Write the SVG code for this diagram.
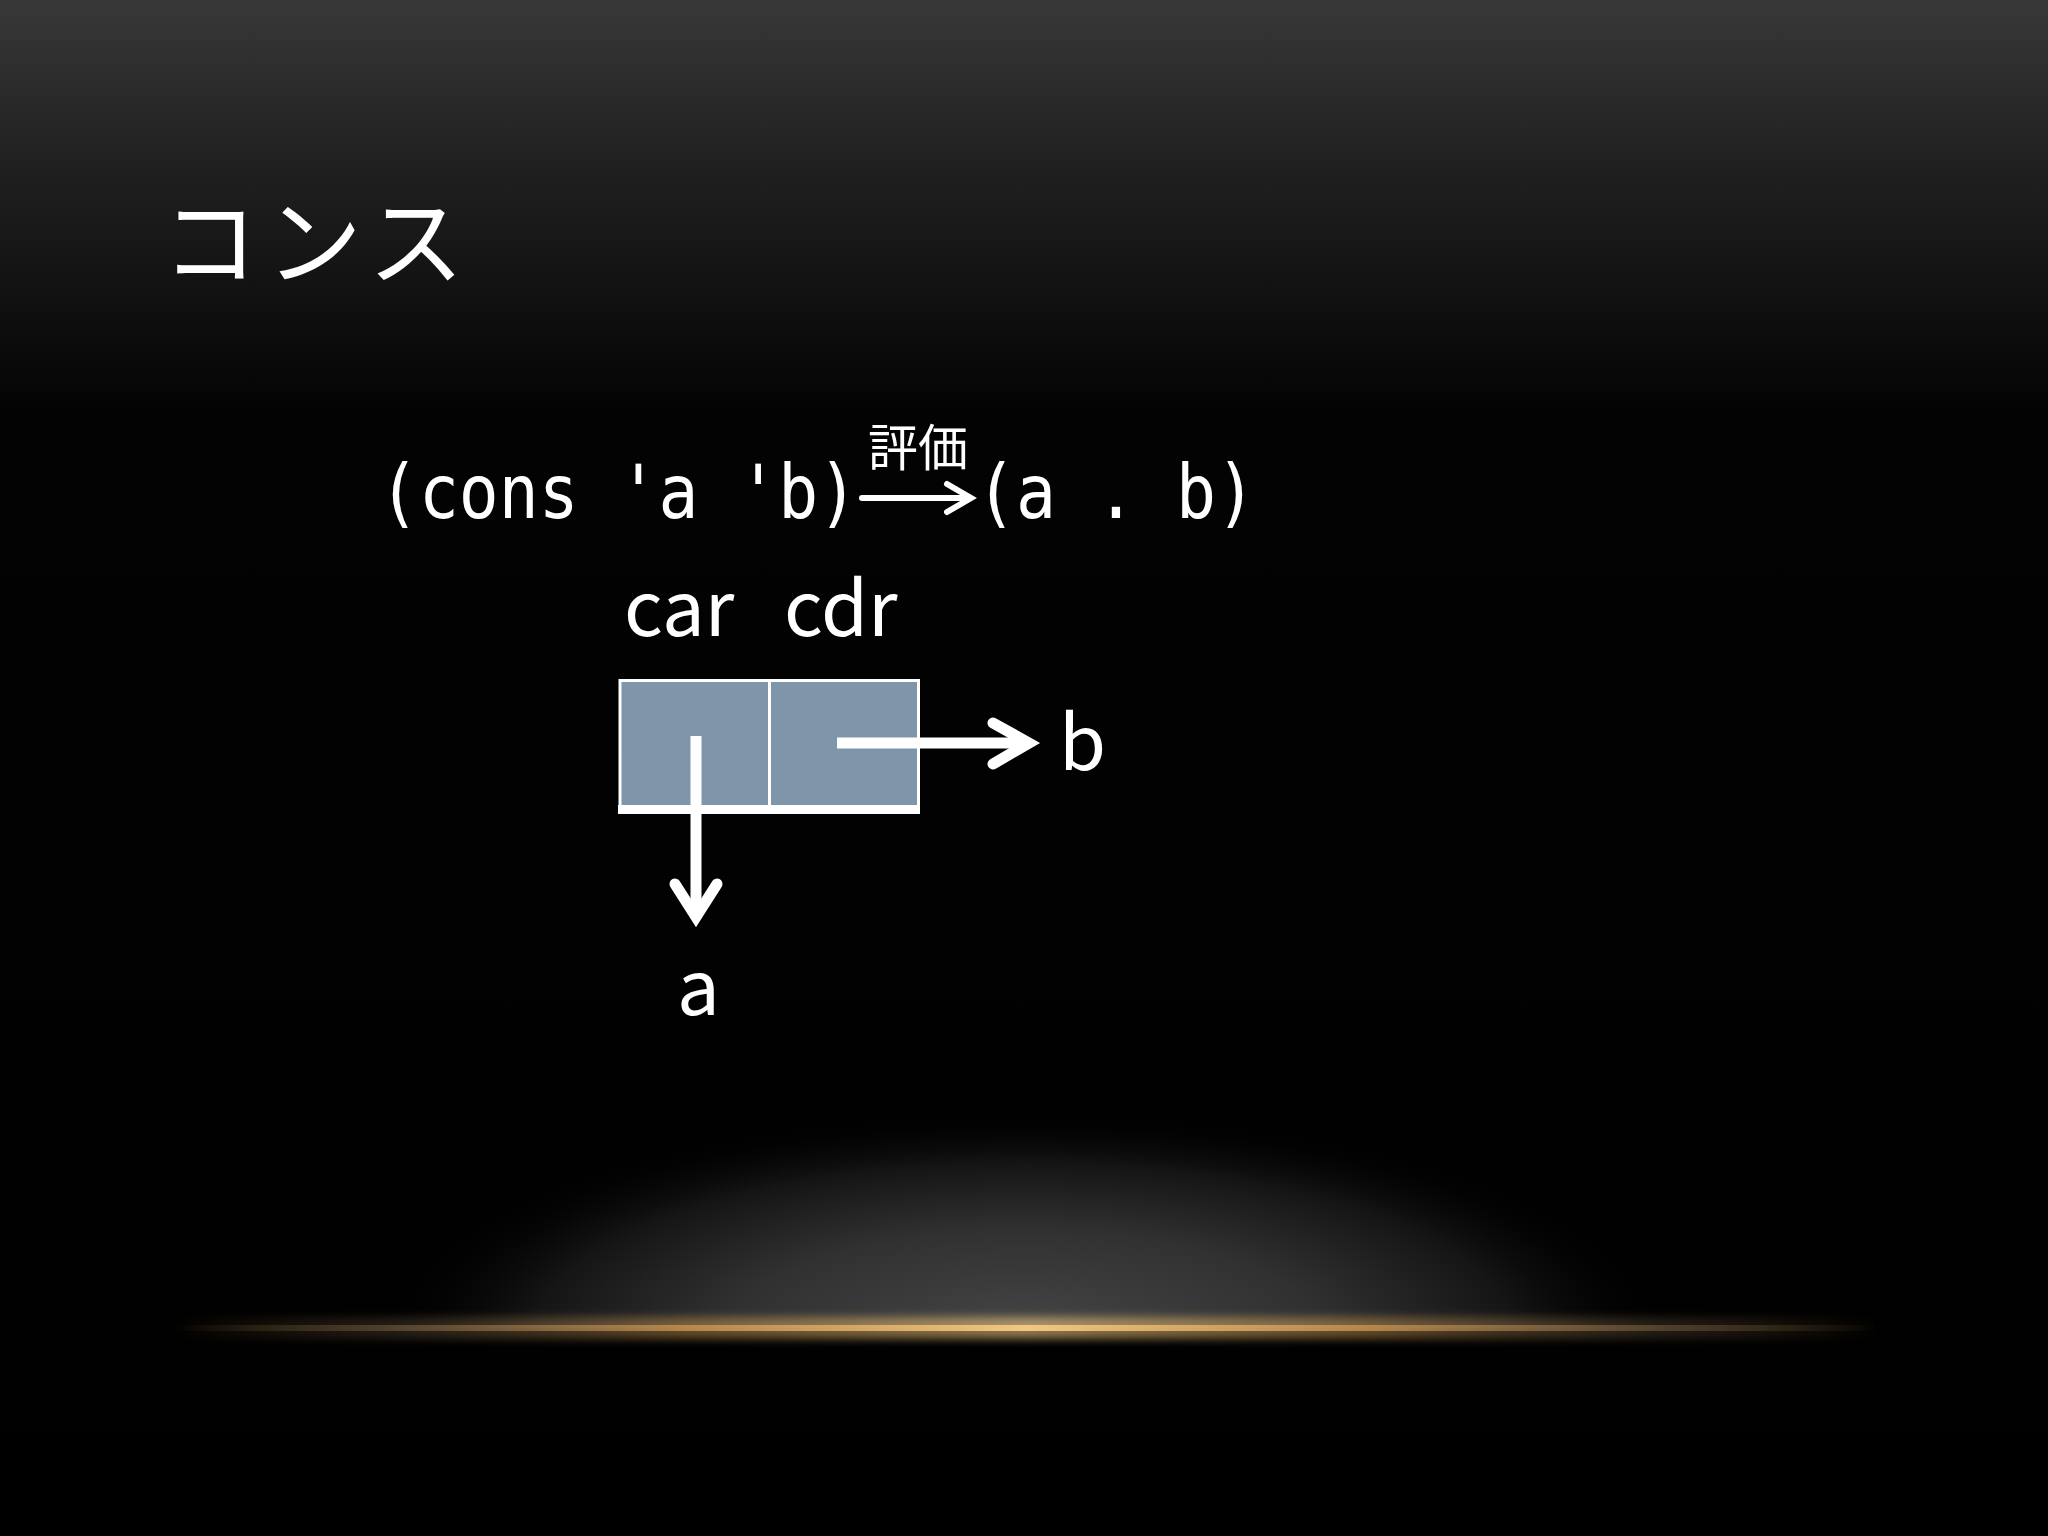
<svg xmlns="http://www.w3.org/2000/svg" width="2048" height="1536" viewBox="0 0 2048 1536">
  <defs>
    <linearGradient id="bgTop" x1="0" y1="0" x2="0" y2="1">
      <stop offset="0" stop-color="#383838"/>
      <stop offset="0.12" stop-color="#1e1e1e"/>
      <stop offset="0.27" stop-color="#030303"/>
      <stop offset="1" stop-color="#000000"/>
    </linearGradient>
    <radialGradient id="glow" cx="1024" cy="1330" r="650" gradientUnits="userSpaceOnUse" gradientTransform="translate(1024 1330) scale(1 0.34) translate(-1024 -1330)">
      <stop offset="0" stop-color="#454545"/>
      <stop offset="0.45" stop-color="#313131"/>
      <stop offset="0.75" stop-color="#151515"/>
      <stop offset="1" stop-color="#000000" stop-opacity="0"/>
    </radialGradient>
    <linearGradient id="gold" x1="170" y1="0" x2="1880" y2="0" gradientUnits="userSpaceOnUse">
      <stop offset="0" stop-color="#b08040" stop-opacity="0"/>
      <stop offset="0.12" stop-color="#8a7050" stop-opacity="0.4"/>
      <stop offset="0.3" stop-color="#c09050" stop-opacity="0.85"/>
      <stop offset="0.5" stop-color="#f0c880"/>
      <stop offset="0.7" stop-color="#c09050" stop-opacity="0.85"/>
      <stop offset="0.88" stop-color="#8a7050" stop-opacity="0.4"/>
      <stop offset="1" stop-color="#b08040" stop-opacity="0"/>
    </linearGradient>
    <filter id="blur" x="-0.1" y="-5" width="1.2" height="11">
      <feGaussianBlur stdDeviation="4"/>
    </filter>
    <clipPath id="aboveLine">
      <rect x="0" y="0" width="2048" height="1328"/>
    </clipPath>
  </defs>
  <style>
    .title { font-family: "Noto Sans CJK JP", sans-serif; font-size: 96px; letter-spacing: 8px; fill: #ffffff; }
    .mono { font-family: "DejaVu Sans Mono", monospace; font-size: 74px; fill: #ffffff; }
    .label { font-family: "Noto Sans CJK JP", sans-serif; font-size: 76px; fill: #ffffff; }
    .small { font-family: "Noto Sans CJK JP", sans-serif; font-size: 50px; fill: #ffffff; }
    .conn { fill: none; stroke: #ffffff; stroke-linecap: round; stroke-linejoin: miter; stroke-miterlimit: 10; }
  </style>

  <!-- background -->
  <rect x="0" y="0" width="2048" height="1536" fill="url(#bgTop)"/>
  <g clip-path="url(#aboveLine)">
    <rect x="300" y="1080" width="1448" height="260" fill="url(#glow)"/>
  </g>
  <rect x="170" y="1317" width="1710" height="22" fill="url(#gold)" opacity="0.6" filter="url(#blur)"/>
  <rect x="170" y="1325" width="1710" height="6" fill="url(#gold)"/>

  <g id="title">
    <text class="title" x="162" y="277">コンス</text>
  </g>

  <g id="expr">
    <text class="mono" x="379" y="518" textLength="479" lengthAdjust="spacingAndGlyphs" xml:space="preserve">(cons 'a 'b)</text>
  </g>
  <g id="eval-label">
    <text class="small" x="868" y="466">評価</text>
  </g>
  <g id="result">
    <text class="mono" x="976" y="518" textLength="280" lengthAdjust="spacingAndGlyphs" xml:space="preserve">(a . b)</text>
  </g>
  <g id="car-cdr-labels">
    <text class="label" y="636"><tspan x="624">car</tspan> <tspan x="784">cdr</tspan></text>
  </g>

  <g id="cons-cell">
    <rect x="620" y="680.5" width="298.5" height="131" fill="#7f96aa" stroke="#ffffff" stroke-width="3"/>
    <line x1="769.5" y1="680" x2="769.5" y2="806" stroke="#ffffff" stroke-width="3"/>
    <rect x="618" y="805" width="302" height="9" fill="#ffffff"/>
  </g>

  <g id="node-a">
    <text class="label" x="677" y="1015">a</text>
  </g>
  <g id="node-b">
    <text class="label" x="1059" y="770">b</text>
  </g>

  <g id="connectors">
    <g class="conn" stroke-width="6">
      <line x1="862" y1="498" x2="969" y2="498"/>
      <polyline points="947,484 971,498 947,512"/>
    </g>
    <g class="conn" stroke-width="11">
      <line x1="696" y1="736" x2="696" y2="915" stroke-linecap="butt"/>
      <polyline points="675,884 696,917 717,884"/>
      <line x1="837" y1="743" x2="1027" y2="743" stroke-linecap="butt"/>
      <polyline points="993,723 1029,743 993,764"/>
    </g>
  </g>
</svg>
